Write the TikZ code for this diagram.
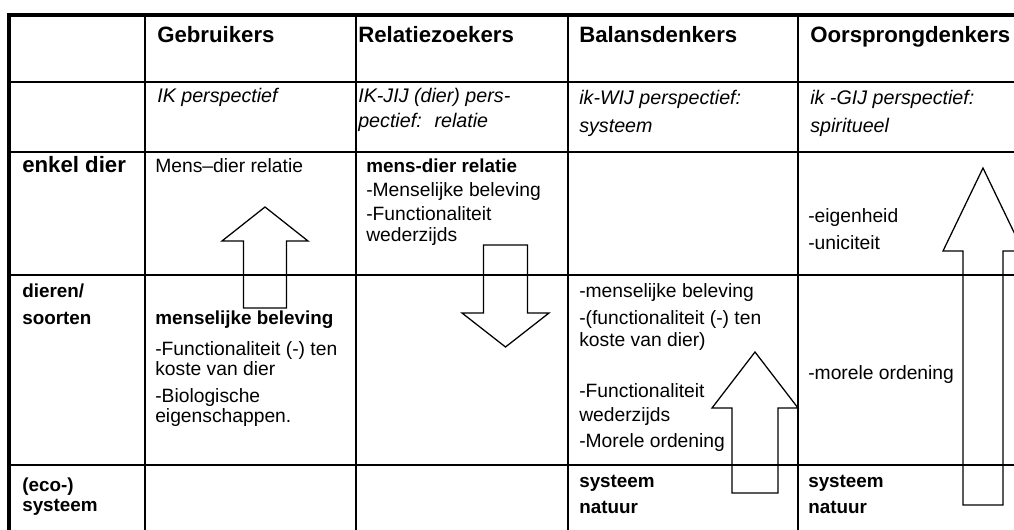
\documentclass[tikz,border=0pt]{standalone}
\usepackage{fontspec}
\setmainfont{Liberation Sans}

\begin{document}
\begin{tikzpicture}[x=0.025cm,y=-0.025cm,
  grid/.style={line width=0.9pt},
  frame/.style={line width=2.2pt},
  blockarrow/.style={line width=0.9pt,line join=miter},
  cell/.style={anchor=base west,inner sep=0pt,font=\fontsize{13.7}{16}\selectfont},
  cellbf/.style={cell,font=\fontsize{13.4}{16}\selectfont\bfseries},
  head/.style={cell,font=\fontsize{15.8}{18}\selectfont\bfseries},
  persp/.style={cell,font=\fontsize{14}{16}\selectfont\itshape}]
\useasboundingbox (0,0) rectangle (1014,530);
\clip (0,0) rectangle (1014,530);

% table rules
\foreach \y in {82,152,275,465} \draw[grid] (9,\y) -- (1014,\y);
\foreach \x in {145,356,568,798} \draw[grid] (\x,15) -- (\x,530);
\draw[frame] (9,530) -- (9,15) -- (1014,15);

% column heads
\node[head] (gebr) at (157,43) {Gebruikers};
\node[head] (relz) at (358,43) {Relatiezoekers};
\node[head] (bal) at (579,43) {Balansdenkers};
\node[head] (oors) at (810,43) {Oorsprongdenkers};

\node[persp] (gebr-p) at (157,103) {IK perspectief};
\node[persp] (relz-p1) at (358,103) {IK-JIJ (dier) pers-};
\node[persp] (relz-p2) at (358,128) {pectief:~ relatie};
\node[persp] (bal-p1) at (579,105) {ik-WIJ perspectief:};
\node[persp] (bal-p2) at (579,133) {systeem};
\node[persp] (oors-p1) at (810,105) {ik -GIJ perspectief:};
\node[persp] (oors-p2) at (810,133) {spiritueel};

% row heads
\node[head] (enkel) at (22,173) {enkel dier};
\node[cellbf] (soort1) at (22,298) {dieren/};
\node[cellbf] (soort2) at (22,325) {soorten};
\node[cellbf] (eco1) at (22,492) {(eco-)};
\node[cellbf] (eco2) at (22,512) {systeem};

% cells
\node[cell] (gebr-a) at (155,173) {Mens--dier relatie};
\node[cellbf] (gebr-b1) at (155,325) {menselijke beleving};
\foreach \y/\t [count=\i from 2] in {356/{-Functionaliteit (-) ten},376/{koste van dier},403/{-Biologische},423/{eigenschappen.}}
  \node[cell] (gebr-b\i) at (155,\y) {\t};

\node[cellbf] (relz-a1) at (366,173) {mens-dier relatie};
\foreach \y/\t [count=\i from 2] in {197/{-Menselijke beleving},221/{-Functionaliteit},242/{wederzijds}}
  \node[cell] (relz-a\i) at (366,\y) {\t};

\foreach \y/\t [count=\i] in {298/{-menselijke beleving},325/{-(functionaliteit (-) ten},347/{koste van dier)},398/{-Functionaliteit},422/{wederzijds},448/{-Morele ordening}}
  \node[cell] (bal-b\i) at (579,\y) {\t};
\node[cellbf] (bal-c1) at (579,488) {systeem};
\node[cellbf] (bal-c2) at (579,514) {natuur};

\node[cell] (oors-a1) at (808,223) {-eigenheid};
\node[cell] (oors-a2) at (808,250) {-uniciteit};
\node[cell] (oors-b) at (808,380) {-morele ordening};
\node[cellbf] (oors-c1) at (808,488) {systeem};
\node[cellbf] (oors-c2) at (808,514) {natuur};

% block arrows: tip x / tip y / head base / half head / half shaft / tail
\foreach \x/\tip/\base/\hw/\sw/\tail in {265/207/241/43/21.5/308,505.5/347/313/43.5/22/245,755/352/408/43/23/493,983/168/251/40/20/505}
  \draw[blockarrow] (\x,\tip) -- ({\x+\hw},\base) -- ({\x+\sw},\base) -- ({\x+\sw},\tail)
    -- ({\x-\sw},\tail) -- ({\x-\sw},\base) -- ({\x-\hw},\base) -- cycle;
\end{tikzpicture}
\end{document}
